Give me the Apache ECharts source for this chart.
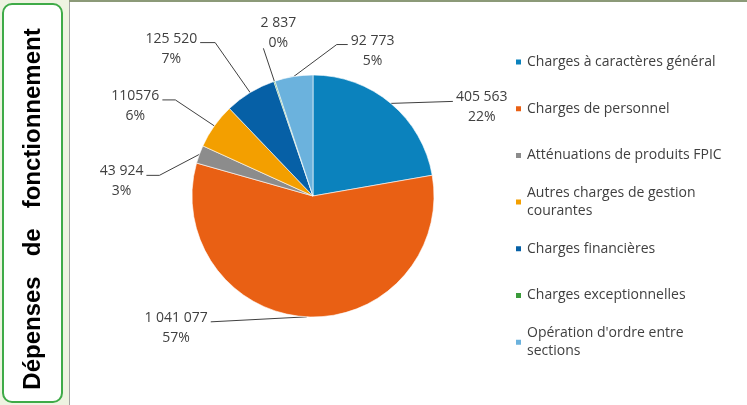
<!DOCTYPE html>
<html>
<head>
<meta charset="utf-8">
<script src="https://cdn.jsdelivr.net/npm/echarts@6/dist/echarts.min.js"></script>
<style>
  html, body { margin: 0; padding: 0; background: #eef3e1; }
  #main { width: 747px; height: 405px; }
</style>
</head>
<body>
<div id="main"></div>
<script>
// données du graphique
const categories = [
  'Charges à caractères général',
  'Charges de personnel',
  'Atténuations de produits FPIC',
  'Autres charges de gestion courantes',
  'Charges financières',
  'Charges exceptionnelles',
  "Opération d'ordre entre sections"
];
const values = [405563, 1041077, 43924, 110576, 125520, 2837, 92773];
const valueLabels = ['405 563', '1 041 077', '43 924', '110576', '125 520', '2 837', '92 773'];
const pctLabels = ['22%', '57%', '3%', '6%', '7%', '0%', '5%'];
const legendLabels = [
  'Charges à caractères général',
  'Charges de personnel',
  'Atténuations de produits FPIC',
  'Autres charges de gestion\ncourantes',
  'Charges financières',
  'Charges exceptionnelles',
  "Opération d'ordre entre\nsections"
];
const colors = ['#0b82bd', '#e96014', '#8c8c8c', '#f39f00', '#0660a6', '#3a9b3a', '#6bb2dd'];

// trait de rappel : coude (dx, dy) depuis le bord de la part, puis segment horizontal
const leader = [[62, -2, 0], [-96, 5, 0], [-40, 21, -13], [-39, -26, -13], [-35, -50, -15], [-11, -33, 0], [43, -32, 11]];

const font = '"Open Sans", sans-serif';
const txtColor = '#404040';

const myChart = echarts.init(document.getElementById('main'));

const legends = categories.map(function (name, i) {
  const twoLines = legendLabels[i].indexOf('\n') >= 0;
  return {
    data: [name],
    orient: 'vertical',
    left: 514,
    top: 62 + i * 46.7 - 9 - (twoLines ? 18 : 0),
    padding: 0,
    itemWidth: 7,
    itemHeight: 7,
    icon: 'rect',
    selectedMode: false,
    formatter: function () { return legendLabels[i]; },
    textStyle: {
      fontFamily: font,
      fontSize: 14,
      lineHeight: 18,
      color: txtColor,
      padding: twoLines ? [18, 0, 0, 0] : 0
    }
  };
});

const option = {
  animation: false,
  color: colors,
  graphic: [
    {
      type: 'rect', z: -10,
      shape: { x: 69.5, y: 1.5, width: 690, height: 420 },
      style: { fill: '#ffffff', stroke: '#a3a3a3', lineWidth: 1 }
    },
    {
      type: 'line', z: -9,
      shape: { x1: 69, y1: 1, x2: 747, y2: 1 },
      style: { stroke: '#8c9a78', lineWidth: 2 }
    },
    {
      type: 'rect', z: -10,
      shape: { x: 3, y: 4, width: 59, height: 398, r: 9 },
      style: { fill: '#ffffff', stroke: '#3fab48', lineWidth: 2 }
    },
    {
      type: 'text', z: -8,
      x: 33, y: 209, rotation: Math.PI / 2,
      style: {
        text: 'Dépenses   de   fonctionnement',
        font: 'bold 24px "Liberation Sans", Arial, sans-serif',
        fill: '#000000',
        align: 'center',
        verticalAlign: 'middle'
      }
    }
  ],
  legend: legends,
  series: [
    {
      type: 'pie',
      center: [313, 196],
      radius: 121,
      startAngle: 90,
      clockwise: true,
      avoidLabelOverlap: false,
      data: categories.map(function (name, i) {
        return { name: name, value: values[i] };
      }),
      itemStyle: { borderColor: '#ffffff', borderWidth: 0.6 },
      label: {
        show: true,
        position: 'outside',
        formatter: function (p) {
          return '{v|' + valueLabels[p.dataIndex] + '}\n{p|' + pctLabels[p.dataIndex] + '}';
        },
        rich: {
          v: { fontFamily: font, fontSize: 14, lineHeight: 20, color: txtColor, align: 'center' },
          p: { fontFamily: font, fontSize: 14, lineHeight: 20, color: txtColor, align: 'center' }
        }
      },
      labelLine: {
        show: true,
        length: 10,
        length2: 10,
        lineStyle: { color: '#404040', width: 1 }
      },
      labelLayout: function (params) {
        const i = params.dataIndex;
        const pts = params.labelLinePoints;
        if (!pts) return {};
        const p0 = pts[0];
        const o = leader[i];
        const elbow = [p0[0] + o[0], p0[1] + o[1]];
        const end = [elbow[0] + o[2], elbow[1]];
        if (i === 5) {
          return {
            x: end[0] + 15, y: end[1] - 35,
            align: 'center', verticalAlign: 'top',
            labelLinePoints: [p0, elbow, end]
          };
        }
        const side = (o[2] !== 0 ? o[2] : o[0]) > 0 ? 1 : -1;
        return {
          x: end[0] + side * 3,
          y: end[1] - 4 - 10,
          align: side > 0 ? 'left' : 'right',
          verticalAlign: 'top',
          labelLinePoints: [p0, elbow, end]
        };
      }
    }
  ]
};

myChart.setOption(option);
</script>
</body>
</html>
